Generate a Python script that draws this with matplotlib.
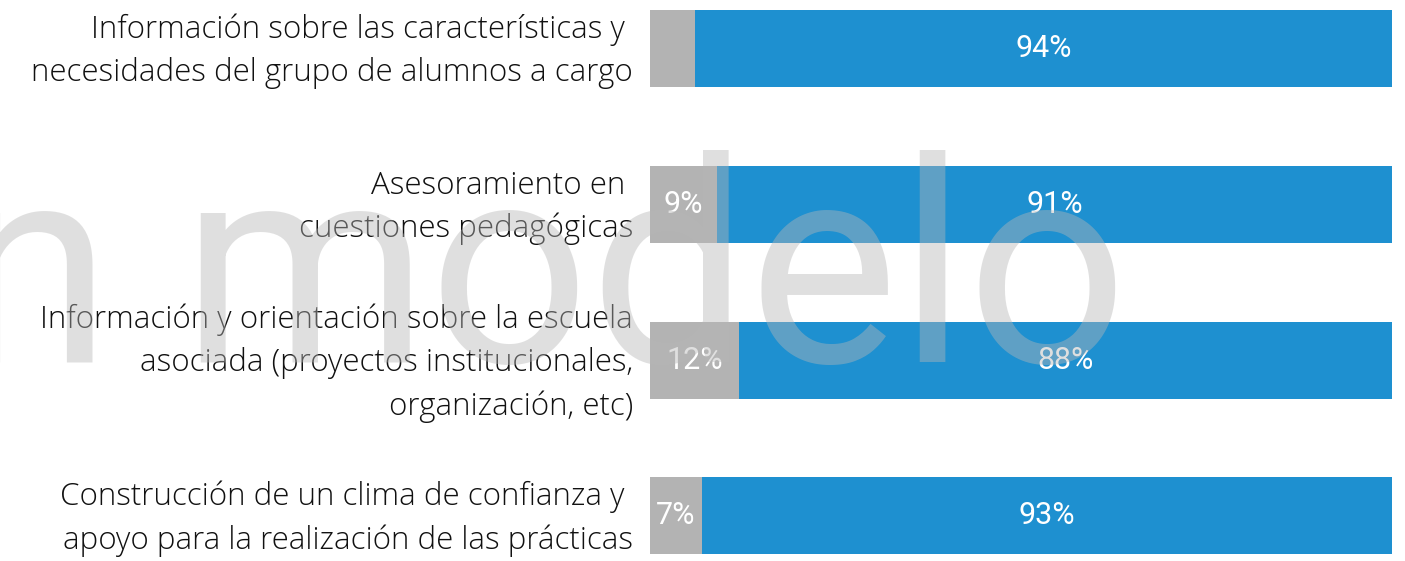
import matplotlib
matplotlib.use("Agg")
import matplotlib.pyplot as plt

categorias = [
    "Información sobre las características y \nnecesidades del grupo de alumnos a cargo",
    "Asesoramiento en \ncuestiones pedagógicas",
    "Información y orientación sobre la escuela\nasociada (proyectos institucionales,\norganización, etc)",
    "Construcción de un clima de confianza y \napoyo para la realización de las prácticas",
]
no_valores = [6, 9, 12, 7]
si_valores = [94, 91, 88, 93]
no_etiquetas = ["", "9%", "12%", "7%"]
si_etiquetas = ["94%", "91%", "88%", "93%"]

gris = "#b3b3b3"
azul = "#1e90d0"

fig = plt.figure(figsize=(14.05, 5.61), dpi=100)
ax = fig.add_axes([650 / 1405, 0, 742 / 1405, 1])

y = list(range(len(categorias)))
ax.barh(y, no_valores, height=0.494, color=gris)
ax.barh(y, si_valores, left=no_valores, height=0.494, color=azul)

for i in y:
    if no_etiquetas[i]:
        ax.text(no_valores[i] / 2, i, no_etiquetas[i], ha="center", va="center",
                color="white", fontsize=22, fontfamily="Roboto")
    ax.text(no_valores[i] + si_valores[i] / 2, i, si_etiquetas[i], ha="center", va="center",
            color="white", fontsize=22, fontfamily="Roboto")
    # etiqueta de la categoria a la izquierda
    ax.annotate(categorias[i], xy=(0, i), xycoords=("axes fraction", "data"),
                xytext=(-17, -3), textcoords="offset pixels", ha="right", va="center",
                fontsize=22.5, fontfamily="Open Sans", fontweight="light",
                color="#111111", linespacing=1.45, annotation_clip=False)

ax.set_xlim(0, 100)
ax.set_ylim(3.289, -0.311)
ax.set_xticks([])
ax.set_yticks([])
for s in ax.spines.values():
    s.set_visible(False)

# marca de agua
fig.text(1128 / 1405, (561 - 362) / 561, "n modelo", ha="right", va="baseline",
         fontsize=203, fontfamily="Roboto", fontweight="normal",
         color="#b7b7b7", alpha=0.43, zorder=10)

fig.savefig("out.png", dpi=100)
